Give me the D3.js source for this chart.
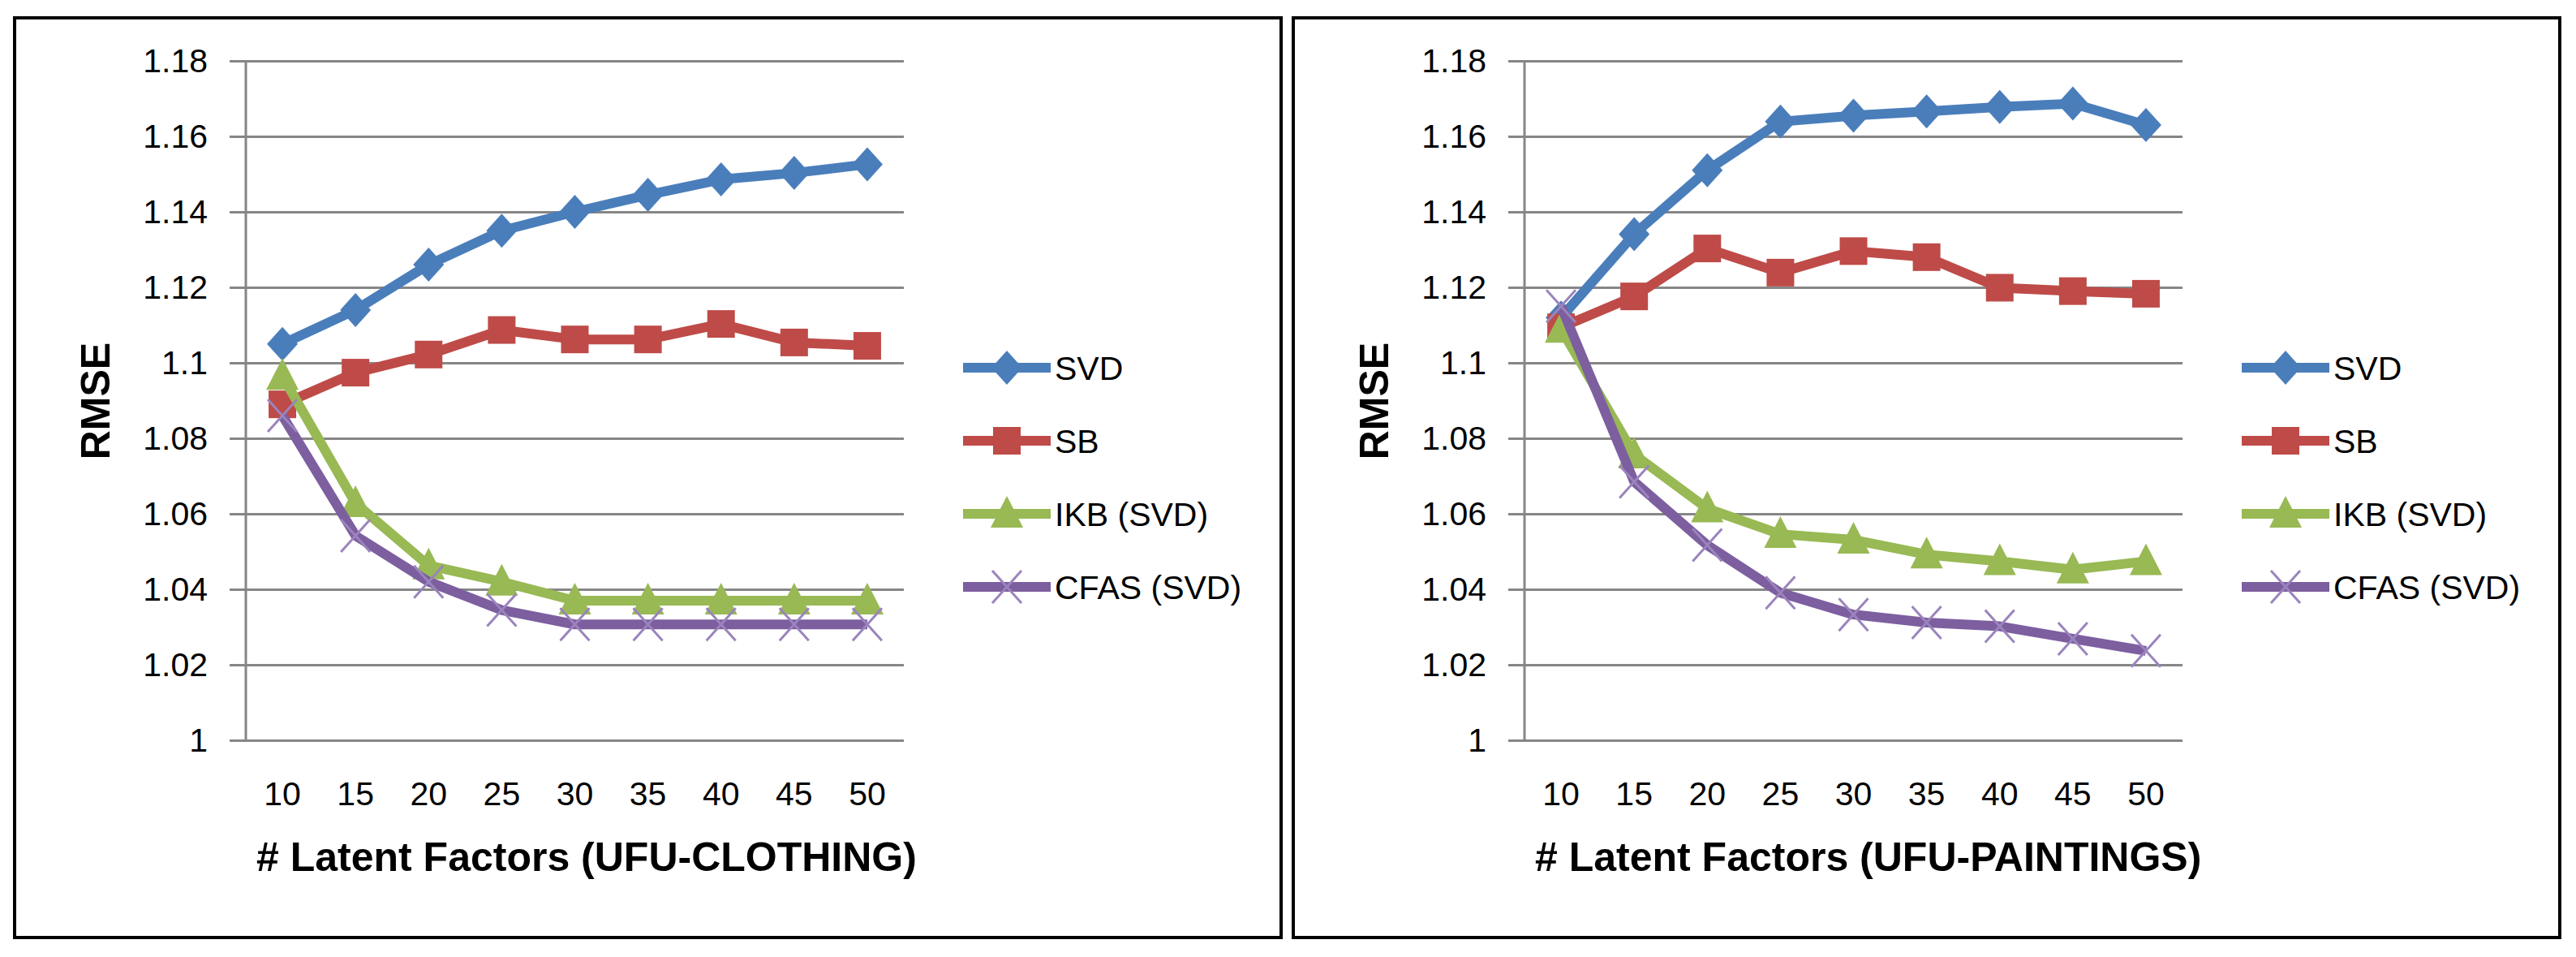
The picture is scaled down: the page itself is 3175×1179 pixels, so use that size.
<!DOCTYPE html>
<html>
<head>
<meta charset="utf-8">
<script src="https://cdn.jsdelivr.net/npm/d3@7"></script>
<style>
  body { margin: 0; background: #fff; }
  svg { display: block; }
</style>
</head>
<body>
<svg id="chart"></svg>
<script>
// data
const factors = [10, 15, 20, 25, 30, 35, 40, 45, 50];
const seriesNames = ["SVD", "SB", "IKB (SVD)", "CFAS (SVD)"];
const yTicks = [1, 1.02, 1.04, 1.06, 1.08, 1.1, 1.12, 1.14, 1.16, 1.18];

const clothingSVD  = [1.105, 1.114, 1.126, 1.135, 1.140, 1.1445, 1.1486, 1.1503, 1.1526];
const clothingSB   = [1.089, 1.0974, 1.1022, 1.1087, 1.1062, 1.1062, 1.1103, 1.1054, 1.1045];
const clothingIKB  = [1.0965, 1.0628, 1.0463, 1.042, 1.037, 1.037, 1.037, 1.037, 1.037];
const clothingCFAS = [1.086, 1.0542, 1.042, 1.0345, 1.0307, 1.0307, 1.0307, 1.0307, 1.0307];

const paintingsSVD  = [1.112, 1.1341, 1.151, 1.1639, 1.1655, 1.1666, 1.1678, 1.1687, 1.163];
const paintingsSB   = [1.1094, 1.1176, 1.1303, 1.1239, 1.1296, 1.128, 1.1199, 1.119, 1.1183];
const paintingsIKB  = [1.109, 1.0757, 1.0614, 1.0546, 1.0531, 1.0492, 1.0474, 1.0452, 1.0474];
const paintingsCFAS = [1.115, 1.0685, 1.0517, 1.0391, 1.0333, 1.0312, 1.0302, 1.0269, 1.0237];

const panels = [
  { title: "# Latent Factors (UFU-CLOTHING)", series: [clothingSVD, clothingSB, clothingIKB, clothingCFAS], dx: 0 },
  { title: "# Latent Factors (UFU-PAINTINGS)", series: [paintingsSVD, paintingsSB, paintingsIKB, paintingsCFAS], dx: 1576 }
];

const colors = ["#4a7ebb", "#be4b48", "#98b954", "#7d5fa0"];
const font = "'Liberation Sans', Arial, sans-serif";

const W = 3175, H = 1179;
const svg = d3.select("#chart").attr("width", W).attr("height", H);
svg.append("rect").attr("width", W).attr("height", H).attr("fill", "#fff");

const x = d3.scaleBand().domain(factors).range([303, 1114]);
const y = d3.scaleLinear().domain([1, 1.18]).range([912, 75]);
const cx = d => x(d) + x.bandwidth() / 2;

function drawMarker(g, type, px, py, color) {
  if (type === 0) {
    g.append("path")
      .attr("d", `M${px},${py - 21}L${px + 19},${py}L${px},${py + 21}L${px - 19},${py}Z`)
      .attr("fill", color);
  } else if (type === 1) {
    g.append("rect")
      .attr("x", px - 17).attr("y", py - 17)
      .attr("width", 34).attr("height", 34)
      .attr("fill", color);
  } else if (type === 2) {
    g.append("path")
      .attr("d", `M${px},${py - 22}L${px + 20},${py + 17}L${px - 20},${py + 17}Z`)
      .attr("fill", color);
  } else {
    g.append("path")
      .attr("d", `M${px - 18},${py - 20}L${px + 18},${py + 20}M${px + 18},${py - 20}L${px - 18},${py + 20}`)
      .attr("stroke", "#9b84bd")
      .attr("stroke-width", 3)
      .attr("fill", "none");
  }
}

panels.forEach(p => {
  const g = svg.append("g").attr("transform", `translate(${p.dx},0)`);

  // panel border
  g.append("rect")
    .attr("x", 18).attr("y", 22)
    .attr("width", 1561).attr("height", 1133)
    .attr("fill", "none")
    .attr("stroke", "#000")
    .attr("stroke-width", 4);

  // gridlines + y tick labels (axis anchored on the right so ticks run leftwards past the axis)
  const yAxis = g.append("g")
    .attr("transform", "translate(1114,0)")
    .call(d3.axisLeft(y).tickValues(yTicks).tickSize(831).tickPadding(27).tickFormat(d => String(d)));
  yAxis.select(".domain").remove();
  yAxis.selectAll("line").attr("stroke", "#868686").attr("stroke-width", 3);
  yAxis.selectAll("text")
    .attr("fill", "#000")
    .style("font-family", font)
    .style("font-size", "41px");

  // vertical axis line
  g.append("line")
    .attr("x1", 303).attr("x2", 303)
    .attr("y1", y(1.18)).attr("y2", y(1))
    .attr("stroke", "#868686").attr("stroke-width", 3);

  // x tick labels
  const xAxis = g.append("g")
    .attr("transform", `translate(0,${y(1)})`)
    .call(d3.axisBottom(x).tickSize(0).tickPadding(51));
  xAxis.select(".domain").remove();
  xAxis.selectAll("text")
    .attr("fill", "#000")
    .style("font-family", font)
    .style("font-size", "41px");

  // axis titles
  g.append("text")
    .attr("x", 316).attr("y", 1073)
    .style("font-family", font)
    .style("font-size", "50px")
    .style("font-weight", "bold")
    .text(p.title);

  g.append("text")
    .attr("transform", "translate(135,494) rotate(-90)")
    .attr("text-anchor", "middle")
    .style("font-family", font)
    .style("font-size", "50px")
    .style("font-weight", "bold")
    .text("RMSE");

  // series lines and markers
  p.series.forEach((vals, i) => {
    const pts = factors.map((f, k) => [cx(f), y(vals[k])]);
    g.append("path")
      .attr("d", d3.line()(pts))
      .attr("fill", "none")
      .attr("stroke", colors[i])
      .attr("stroke-width", 12)
      .attr("stroke-linejoin", "round");
    pts.forEach(pt => drawMarker(g, i, pt[0], pt[1], colors[i]));
  });

  // legend
  const ly = d3.scalePoint().domain(seriesNames).range([453, 723]);
  seriesNames.forEach((name, i) => {
    const yy = ly(name);
    g.append("line")
      .attr("x1", 1187).attr("x2", 1295)
      .attr("y1", yy).attr("y2", yy)
      .attr("stroke", colors[i])
      .attr("stroke-width", 12);
    drawMarker(g, i, 1241, yy, colors[i]);
    g.append("text")
      .attr("x", 1300).attr("y", yy)
      .attr("dy", "0.36em")
      .style("font-family", font)
      .style("font-size", "41px")
      .text(name);
  });
});
</script>
</body>
</html>
